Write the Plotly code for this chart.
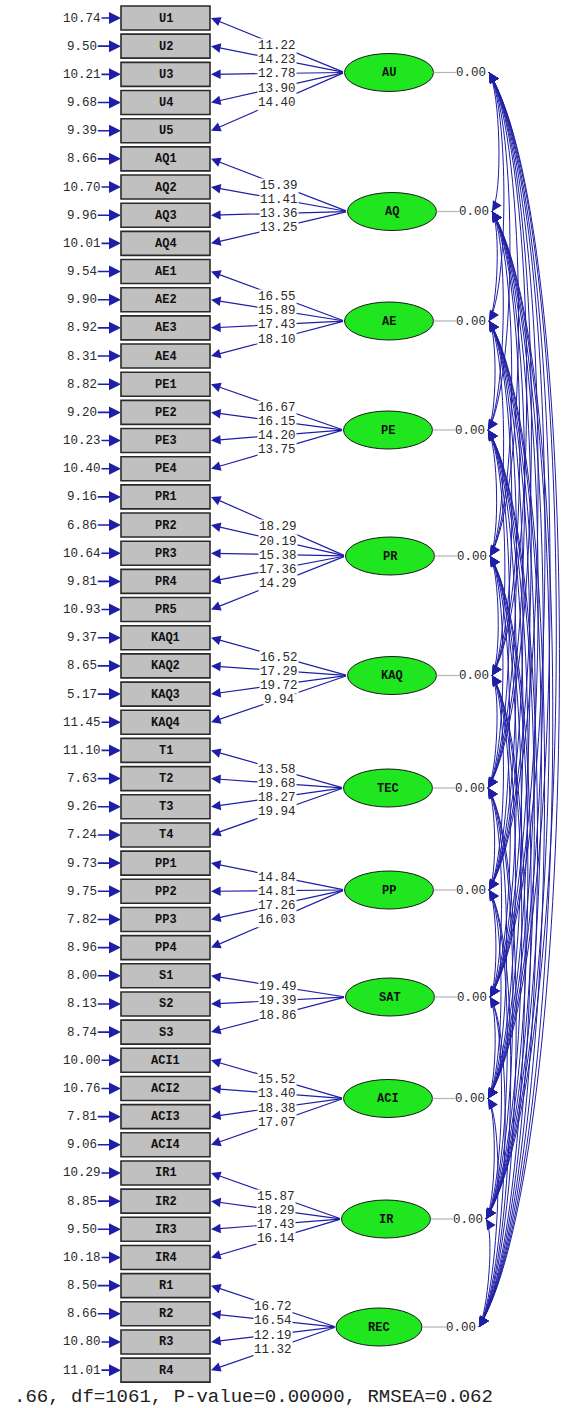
import plotly.graph_objects as go
import numpy as np

# ---------------- data ----------------
indicators = ["U1", "U2", "U3", "U4", "U5",
              "AQ1", "AQ2", "AQ3", "AQ4",
              "AE1", "AE2", "AE3", "AE4",
              "PE1", "PE2", "PE3", "PE4",
              "PR1", "PR2", "PR3", "PR4", "PR5",
              "KAQ1", "KAQ2", "KAQ3", "KAQ4",
              "T1", "T2", "T3", "T4",
              "PP1", "PP2", "PP3", "PP4",
              "S1", "S2", "S3",
              "ACI1", "ACI2", "ACI3", "ACI4",
              "IR1", "IR2", "IR3", "IR4",
              "R1", "R2", "R3", "R4"]
error_values = [10.74, 9.50, 10.21, 9.68, 9.39,
                8.66, 10.70, 9.96, 10.01,
                9.54, 9.90, 8.92, 8.31,
                8.82, 9.20, 10.23, 10.40,
                9.16, 6.86, 10.64, 9.81, 10.93,
                9.37, 8.65, 5.17, 11.45,
                11.10, 7.63, 9.26, 7.24,
                9.73, 9.75, 7.82, 8.96,
                8.00, 8.13, 8.74,
                10.00, 10.76, 7.81, 9.06,
                10.29, 8.85, 9.50, 10.18,
                8.50, 8.66, 10.80, 11.01]
loading_values = [11.22, 14.23, 12.78, 13.90, 14.40,
                  15.39, 11.41, 13.36, 13.25,
                  16.55, 15.89, 17.43, 18.10,
                  16.67, 16.15, 14.20, 13.75,
                  18.29, 20.19, 15.38, 17.36, 14.29,
                  16.52, 17.29, 19.72, 9.94,
                  13.58, 19.68, 18.27, 19.94,
                  14.84, 14.81, 17.26, 16.03,
                  19.49, 19.39, 18.86,
                  15.52, 13.40, 18.38, 17.07,
                  15.87, 18.29, 17.43, 16.14,
                  16.72, 16.54, 12.19, 11.32]
latents = ["AU", "AQ", "AE", "PE", "PR", "KAQ", "TEC", "PP", "SAT", "ACI", "IR", "REC"]
indicator_counts = [5, 4, 4, 4, 5, 4, 4, 4, 3, 4, 4, 4]
latent_variances = [0.00] * 12
fit_text = ".66, df=1061, P-value=0.00000, RMSEA=0.062"

# ---------------- layout constants ----------------
W, H = 565, 1408
BOX_X0, BOX_X1 = 121, 210
BOX_TOP, BOX_PITCH, BOX_H = 18.0, 28.17, 24
LAT_Y = [72.5, 211.5, 321, 430, 556, 675.5, 788, 890, 997, 1098.5, 1219, 1327]
LAT_X = [389, 392, 389, 388, 390, 392, 388, 389, 390, 388, 386, 379]
ELL_W = [89, 89, 89, 89, 89, 89, 89, 89, 89, 89, 89, 86]
ELL_H = 38
BLUE = "#1e1ea6"
TXT = "#2a2a2a"
MONO = "Liberation Mono, Courier New, monospace"

fig = go.Figure()
fig.add_trace(go.Scatter(x=[0, W], y=[0, H], mode="markers",
                         marker=dict(opacity=0), hoverinfo="skip", showlegend=False))

shapes = []
arrow_anns = []
label_anns = []

box_y = [BOX_TOP + i * BOX_PITCH for i in range(len(indicators))]

# boxes
for i, name in enumerate(indicators):
    y = box_y[i]
    shapes.append(dict(type="rect", x0=BOX_X0, x1=BOX_X1, y0=y - BOX_H / 2, y1=y + BOX_H / 2,
                       xref="x", yref="y", fillcolor="#c0c0c0",
                       line=dict(color="#2a2a2a", width=1.6)))
    label_anns.append(dict(x=(BOX_X0 + BOX_X1) / 2, y=y + 0.5, text="<b>%s</b>" % name,
                           showarrow=False, font=dict(family=MONO, size=12, color="#111")))
    # error arrow
    arrow_anns.append(dict(x=BOX_X0, y=y, ax=96, ay=y, axref="x", ayref="y", xref="x", yref="y",
                           text="", showarrow=True, arrowhead=2, arrowsize=1.5, arrowwidth=1.6,
                           arrowcolor=BLUE, standoff=0, startstandoff=0))
    label_anns.append(dict(x=82, y=y + 0.5, text="%.2f" % error_values[i], showarrow=False,
                           font=dict(family=MONO, size=12.5, color=TXT),
                           bgcolor="white", borderpad=0))

# latents and loadings
idx = 0
arc_x = []
for k, lat in enumerate(latents):
    cx, cy, ew = LAT_X[k], LAT_Y[k], ELL_W[k]
    left = cx - ew / 2
    right = cx + ew / 2
    shapes.append(dict(type="circle", x0=left, x1=right, y0=cy - ELL_H / 2, y1=cy + ELL_H / 2,
                       xref="x", yref="y", fillcolor="#1fe61f",
                       line=dict(color="#1a1a1a", width=1)))
    label_anns.append(dict(x=cx, y=cy + 0.5, text="<b>%s</b>" % lat, showarrow=False,
                           font=dict(family=MONO, size=12, color="#111")))
    # grey variance line + value
    shapes.append(dict(type="line", x0=right, x1=cx + 67, y0=cy, y1=cy, xref="x", yref="y",
                       line=dict(color="#b4b4b4", width=1.2)))
    label_anns.append(dict(x=cx + 99, y=cy + 0.5, text="%.2f" % latent_variances[k],
                           showarrow=False, xanchor="right",
                           font=dict(family=MONO, size=12.5, color=TXT)))
    arc_x.append(cx + 99)
    for j in range(indicator_counts[k]):
        by = box_y[idx]
        arrow_anns.append(dict(x=BOX_X1 + 1, y=by, ax=left, ay=cy, axref="x", ayref="y",
                               xref="x", yref="y", text="", showarrow=True, arrowhead=2,
                               arrowsize=1.6, arrowwidth=1.2, arrowcolor=BLUE,
                               standoff=0, startstandoff=0))
        label_anns.append(dict(x=(BOX_X1 + left) / 2, y=(by + cy) / 2 + 1,
                               text="%.2f" % loading_values[idx], showarrow=False,
                               font=dict(family=MONO, size=12.5, color=TXT),
                               bgcolor="white", borderpad=0))
        idx += 1

# covariance arcs between all latent pairs
n = len(latents)
for a in range(n):
    for b in range(a + 1, n):
        x0, y0 = arc_x[a] + 1, LAT_Y[a]
        x3, y3 = arc_x[b] + 1, LAT_Y[b]
        span = y3 - y0
        kx = 0.08 * span
        ky = 0.13 * span
        path = "M %.2f,%.2f C %.2f,%.2f %.2f,%.2f %.2f,%.2f" % (
            x0, y0, x0 + kx, y0 + ky, x3 + kx, y3 - ky, x3, y3)
        shapes.append(dict(type="path", path=path, xref="x", yref="y",
                           line=dict(color=BLUE, width=1)))
        d = np.hypot(kx, ky)
        ux, uy = kx / d, ky / d
        L = 10
        arrow_anns.append(dict(x=x0, y=y0, ax=x0 + ux * L, ay=y0 + uy * L, axref="x", ayref="y",
                               xref="x", yref="y", text="", showarrow=True, arrowhead=2,
                               arrowsize=1.7, arrowwidth=1.2, arrowcolor=BLUE,
                               standoff=0, startstandoff=0))
        arrow_anns.append(dict(x=x3, y=y3, ax=x3 + ux * L, ay=y3 - uy * L, axref="x", ayref="y",
                               xref="x", yref="y", text="", showarrow=True, arrowhead=2,
                               arrowsize=1.7, arrowwidth=1.2, arrowcolor=BLUE,
                               standoff=0, startstandoff=0))

label_anns.append(dict(x=12, y=1397, text=fit_text, showarrow=False, xanchor="left",
                       font=dict(family=MONO, size=19, color="#222")))

fig.update_layout(
    width=W, height=H, margin=dict(l=0, r=0, t=0, b=0),
    paper_bgcolor="white", plot_bgcolor="white",
    xaxis=dict(range=[0, W], visible=False, fixedrange=True),
    yaxis=dict(range=[H, 0], visible=False, fixedrange=True),
    shapes=shapes, annotations=arrow_anns + label_anns, showlegend=False,
)
fig.write_html("out.html", config={"displayModeBar": False},
               post_script="document.body.style.margin='0';document.body.style.padding='0';")
